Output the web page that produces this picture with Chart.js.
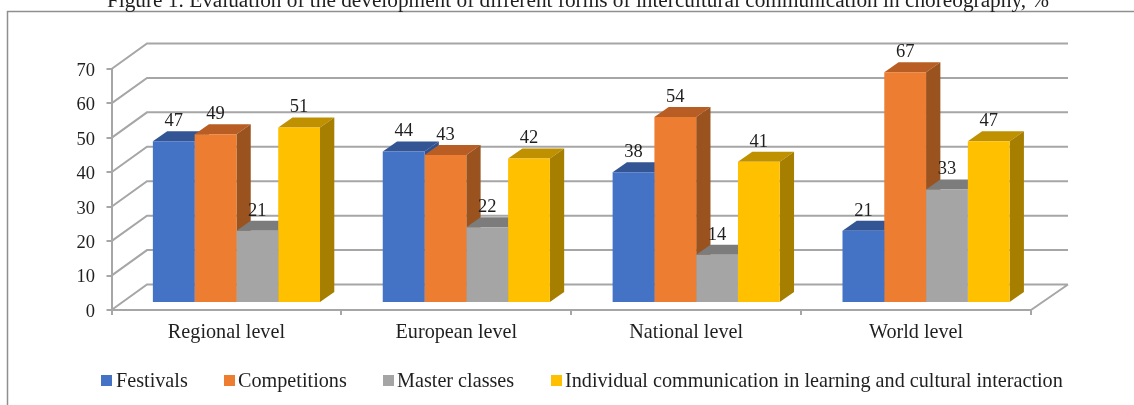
<!DOCTYPE html>
<html>
<head>
<meta charset="utf-8">
<style>html,body{margin:0;padding:0;background:#fff;overflow:hidden}canvas{display:block}</style>
<script src="https://cdn.jsdelivr.net/npm/chart.js@4/dist/chart.umd.min.js"></script>
</head>
<body>
<canvas id="c" width="1134" height="405"></canvas>
<script>
const titleText = 'Figure 1. Evaluation of the development of different forms of intercultural communication in choreography, %';
const categories = ['Regional level', 'European level', 'National level', 'World level'];
const festivals = [47, 44, 38, 21];
const competitions = [49, 43, 54, 67];
const masterClasses = [21, 22, 14, 33];
const individual = [51, 42, 41, 47];
const seriesNames = ['Festivals', 'Competitions', 'Master classes', 'Individual communication in learning and cultural interaction'];
const seriesValues = [festivals, competitions, masterClasses, individual];
const frontColors = ['#4472c4', '#ed7d31', '#a5a5a5', '#ffc000'];
const topColors = ['#335593', '#b85e25', '#7c7c7c', '#bf9000'];
const sideColors = ['#2f5190', '#9a521f', '#6d6d6d', '#a67e00'];
const legendSwatchX = [101, 224, 383, 551];
const legendTextX = [116, 238, 397, 565];

const FONT = '"Liberation Serif", serif';
const GRID = '#a6a6a6', TEXT = '#1f1f1f';
const WALL = {dx: 35.5, dy: -25.5};      // depth of the side wall and floor
const BAR = {dx: 10, dy: -7, sx: 14.3, sy: -10}; // bar inset and bar depth

function poly(ctx, pts, fill) {
  ctx.beginPath();
  pts.forEach((p, i) => i ? ctx.lineTo(p[0], p[1]) : ctx.moveTo(p[0], p[1]));
  ctx.closePath();
  ctx.fillStyle = fill;
  ctx.fill();
}

const scene = {
  id: 'scene',
  beforeDraw(chart) {
    const {ctx, scales: {y}, chartArea: a} = chart;
    ctx.save();
    // outer frame
    ctx.strokeStyle = '#8f8f8f';
    ctx.lineWidth = 1.5;
    ctx.beginPath();
    ctx.moveTo(7.5, 405); ctx.lineTo(7.5, 11.5); ctx.lineTo(1134, 11.5);
    ctx.stroke();
    // title, cut by the top of the page as in the reference
    ctx.fillStyle = TEXT;
    ctx.font = '21.3px ' + FONT;
    ctx.textAlign = 'center';
    ctx.textBaseline = 'alphabetic';
    ctx.fillText(titleText, 578, 6.5);
    // back wall and side wall
    ctx.strokeStyle = GRID;
    ctx.lineWidth = 2;
    ctx.beginPath();
    y.ticks.forEach(t => {
      const py = y.getPixelForValue(t.value);
      ctx.moveTo(a.left, py);
      ctx.lineTo(a.left + WALL.dx, py + WALL.dy);
      ctx.lineTo(a.right + WALL.dx + 1.5, py + WALL.dy);
    });
    // right edge of the floor
    const y0 = y.getPixelForValue(0);
    ctx.moveTo(a.right + WALL.dx + 1.5, y0 + WALL.dy);
    ctx.lineTo(a.right, y0);
    ctx.stroke();
    // value-axis labels sit a little below their ticks
    ctx.fillStyle = TEXT;
    ctx.font = '18.5px ' + FONT;
    ctx.textAlign = 'right';
    ctx.textBaseline = 'middle';
    y.ticks.forEach(t => {
      ctx.fillText(String(t.value), 95, y.getPixelForValue(t.value) + 2);
    });
    // legend
    ctx.font = '20.2px ' + FONT;
    ctx.textAlign = 'left';
    seriesNames.forEach((n, i) => {
      ctx.fillStyle = frontColors[i];
      ctx.fillRect(legendSwatchX[i], 375, 11, 11);
      ctx.fillStyle = TEXT;
      ctx.fillText(n, legendTextX[i], 381.5);
    });
    ctx.restore();
  },
  beforeDatasetsDraw(chart) {
    const {ctx} = chart;
    ctx.save();
    ctx.translate(BAR.dx, BAR.dy);
    // tops and sides, left to right, so each bar overlaps the one before it
    chart.data.labels.forEach((_, j) => {
      chart.data.datasets.forEach((ds, i) => {
        const el = chart.getDatasetMeta(i).data[j];
        const {x, y, width: w, base} = el.getProps(['x', 'y', 'width', 'base'], true);
        const l = x - w / 2, r = x + w / 2;
        poly(ctx, [[l, y], [l + BAR.sx, y + BAR.sy], [r + BAR.sx, y + BAR.sy], [r, y]], topColors[i]);
        poly(ctx, [[r, y], [r + BAR.sx, y + BAR.sy], [r + BAR.sx, base + BAR.sy], [r, base]], sideColors[i]);
      });
    });
  },
  afterDatasetsDraw(chart) {
    const {ctx} = chart;
    ctx.restore();
    ctx.save();
    ctx.translate(BAR.dx, BAR.dy);
    ctx.font = '18.5px ' + FONT;
    ctx.fillStyle = TEXT;
    ctx.textAlign = 'center';
    ctx.textBaseline = 'middle';
    chart.data.datasets.forEach((ds, i) => {
      chart.getDatasetMeta(i).data.forEach((el, j) => {
        ctx.fillText(String(ds.data[j]), el.x, el.y - 20);
      });
    });
    ctx.restore();
  }
};

new Chart(document.getElementById('c'), {
  type: 'bar',
  data: {
    labels: categories,
    datasets: seriesNames.map((label, i) => ({
      label,
      data: seriesValues[i],
      backgroundColor: frontColors[i],
      clip: false,
      categoryPercentage: 0.727,
      barPercentage: 1,
      borderWidth: 0
    }))
  },
  options: {
    responsive: false,
    animation: false,
    layout: {padding: {left: 0, right: 103, top: 69, bottom: 0}},
    plugins: {legend: {display: false}, title: {display: false}, tooltip: {enabled: false}},
    scales: {
      x: {
        afterFit(s) { s.height = 95; },
        border: {display: true, color: GRID, width: 2},
        grid: {drawOnChartArea: false, drawTicks: true, tickLength: 5, color: GRID, lineWidth: 2},
        ticks: {color: TEXT, font: {family: FONT, size: 20.2}, padding: 6, maxRotation: 0}
      },
      y: {
        min: 0, max: 70,
        afterFit(s) { s.width = 111.5; },
        border: {display: true, color: GRID, width: 2},
        grid: {drawOnChartArea: false, drawTicks: true, tickLength: 5, color: GRID, lineWidth: 2},
        ticks: {stepSize: 10, display: false}
      }
    }
  },
  plugins: [scene]
});
</script>
</body>
</html>
